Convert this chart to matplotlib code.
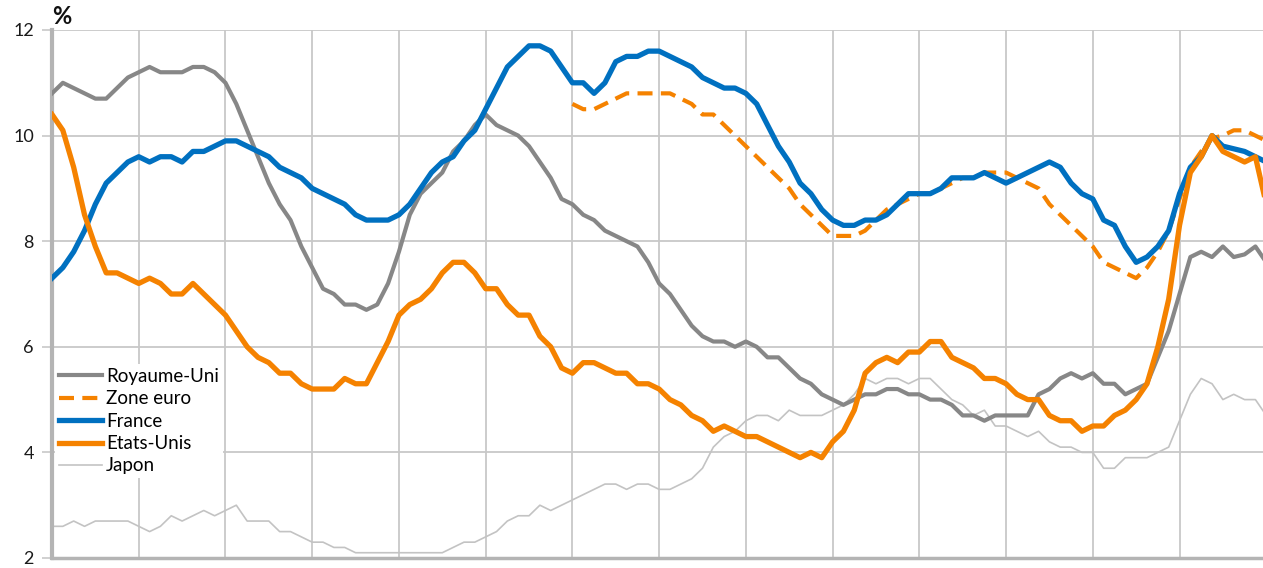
import matplotlib
matplotlib.use("Agg")
import matplotlib.pyplot as plt
import numpy as np

# Taux de chomage trimestriels, 1983T1 -> 2011T1 (indice 0 = 1983T1)
royaume_uni = [10.8, 11.0, 10.9, 10.8, 10.7, 10.7, 10.9, 11.1, 11.2, 11.3,
               11.2, 11.2, 11.2, 11.3, 11.3, 11.2, 11.0, 10.6, 10.1, 9.6,
               9.1, 8.7, 8.4, 7.9, 7.5, 7.1, 7.0, 6.8, 6.8, 6.7,
               6.8, 7.2, 7.8, 8.5, 8.9, 9.1, 9.3, 9.7, 9.9, 10.2,
               10.4, 10.2, 10.1, 10.0, 9.8, 9.5, 9.2, 8.8, 8.7, 8.5,
               8.4, 8.2, 8.1, 8.0, 7.9, 7.6, 7.2, 7.0, 6.7, 6.4,
               6.2, 6.1, 6.1, 6.0, 6.1, 6.0, 5.8, 5.8, 5.6, 5.4,
               5.3, 5.1, 5.0, 4.9, 5.0, 5.1, 5.1, 5.2, 5.2, 5.1,
               5.1, 5.0, 5.0, 4.9, 4.7, 4.7, 4.6, 4.7, 4.7, 4.7,
               4.7, 5.1, 5.2, 5.4, 5.5, 5.4, 5.5, 5.3, 5.3, 5.1,
               5.2, 5.3, 5.8, 6.3, 7.0, 7.7, 7.8, 7.7, 7.9, 7.7,
               7.75, 7.9, 7.6]

# Zone euro : debut de serie en 1995T1 (indice 48)
zone_euro_debut = 48
zone_euro = [10.6, 10.5, 10.5, 10.6, 10.7, 10.8, 10.8, 10.8, 10.8, 10.8,
             10.7, 10.6, 10.4, 10.4, 10.2, 10.0, 9.8, 9.6, 9.4, 9.2,
             9.0, 8.7, 8.5, 8.3, 8.1, 8.1, 8.1, 8.2, 8.4, 8.6,
             8.7, 8.8, 8.9, 8.9, 9.0, 9.1, 9.2, 9.2, 9.3, 9.3,
             9.3, 9.2, 9.1, 9.0, 8.7, 8.5, 8.3, 8.1, 7.9, 7.6,
             7.5, 7.4, 7.3, 7.5, 7.8, 8.2, 8.8, 9.4, 9.7, 9.95,
             10.0, 10.1, 10.1, 10.0, 9.9]

france = [7.3, 7.5, 7.8, 8.2, 8.7, 9.1, 9.3, 9.5, 9.6, 9.5,
          9.6, 9.6, 9.5, 9.7, 9.7, 9.8, 9.9, 9.9, 9.8, 9.7,
          9.6, 9.4, 9.3, 9.2, 9.0, 8.9, 8.8, 8.7, 8.5, 8.4,
          8.4, 8.4, 8.5, 8.7, 9.0, 9.3, 9.5, 9.6, 9.9, 10.1,
          10.5, 10.9, 11.3, 11.5, 11.7, 11.7, 11.6, 11.3, 11.0, 11.0,
          10.8, 11.0, 11.4, 11.5, 11.5, 11.6, 11.6, 11.5, 11.4, 11.3,
          11.1, 11.0, 10.9, 10.9, 10.8, 10.6, 10.2, 9.8, 9.5, 9.1,
          8.9, 8.6, 8.4, 8.3, 8.3, 8.4, 8.4, 8.5, 8.7, 8.9,
          8.9, 8.9, 9.0, 9.2, 9.2, 9.2, 9.3, 9.2, 9.1, 9.2,
          9.3, 9.4, 9.5, 9.4, 9.1, 8.9, 8.8, 8.4, 8.3, 7.9,
          7.6, 7.7, 7.9, 8.2, 8.9, 9.4, 9.6, 10.0, 9.8, 9.75,
          9.7, 9.6, 9.5]

etats_unis = [10.4, 10.1, 9.4, 8.5, 7.9, 7.4, 7.4, 7.3, 7.2, 7.3,
              7.2, 7.0, 7.0, 7.2, 7.0, 6.8, 6.6, 6.3, 6.0, 5.8,
              5.7, 5.5, 5.5, 5.3, 5.2, 5.2, 5.2, 5.4, 5.3, 5.3,
              5.7, 6.1, 6.6, 6.8, 6.9, 7.1, 7.4, 7.6, 7.6, 7.4,
              7.1, 7.1, 6.8, 6.6, 6.6, 6.2, 6.0, 5.6, 5.5, 5.7,
              5.7, 5.6, 5.5, 5.5, 5.3, 5.3, 5.2, 5.0, 4.9, 4.7,
              4.6, 4.4, 4.5, 4.4, 4.3, 4.3, 4.2, 4.1, 4.0, 3.9,
              4.0, 3.9, 4.2, 4.4, 4.8, 5.5, 5.7, 5.8, 5.7, 5.9,
              5.9, 6.1, 6.1, 5.8, 5.7, 5.6, 5.4, 5.4, 5.3, 5.1,
              5.0, 5.0, 4.7, 4.6, 4.6, 4.4, 4.5, 4.5, 4.7, 4.8,
              5.0, 5.3, 6.0, 6.9, 8.3, 9.3, 9.6, 10.0, 9.7, 9.6,
              9.5, 9.6, 8.7]

japon = [2.6, 2.6, 2.7, 2.6, 2.7, 2.7, 2.7, 2.7, 2.6, 2.5,
         2.6, 2.8, 2.7, 2.8, 2.9, 2.8, 2.9, 3.0, 2.7, 2.7,
         2.7, 2.5, 2.5, 2.4, 2.3, 2.3, 2.2, 2.2, 2.1, 2.1,
         2.1, 2.1, 2.1, 2.1, 2.1, 2.1, 2.1, 2.2, 2.3, 2.3,
         2.4, 2.5, 2.7, 2.8, 2.8, 3.0, 2.9, 3.0, 3.1, 3.2,
         3.3, 3.4, 3.4, 3.3, 3.4, 3.4, 3.3, 3.3, 3.4, 3.5,
         3.7, 4.1, 4.3, 4.4, 4.6, 4.7, 4.7, 4.6, 4.8, 4.7,
         4.7, 4.7, 4.8, 4.9, 5.1, 5.4, 5.3, 5.4, 5.4, 5.3,
         5.4, 5.4, 5.2, 5.0, 4.9, 4.7, 4.8, 4.5, 4.5, 4.4,
         4.3, 4.4, 4.2, 4.1, 4.1, 4.0, 4.0, 3.7, 3.7, 3.9,
         3.9, 3.9, 4.0, 4.1, 4.6, 5.1, 5.4, 5.3, 5.0, 5.1,
         5.0, 5.0, 4.7]

y_ticks = [2, 4, 6, 8, 10, 12]

GRIS = "#878787"
ORANGE = "#f58200"
BLEU = "#0070c0"
GRIS_CLAIR = "#c3c3c3"
GRILLE = "#c8c8c8"


def generate_chart():
    plt.rcParams['font.family'] = ['Lato', 'DejaVu Sans']

    fig = plt.figure(figsize=(12.63, 5.68), dpi=100)
    ax = fig.add_axes([52 / 1263, 10 / 568, 1 - 52 / 1263, 528 / 568])

    q = np.arange(len(france))
    q_euro = np.arange(zone_euro_debut, zone_euro_debut + len(zone_euro))

    ax.plot(q, japon, color=GRIS_CLAIR, linewidth=1.2, label='Japon', zorder=2)
    ax.plot(q, royaume_uni, color=GRIS, linewidth=3.0, label='Royaume-Uni',
            solid_joinstyle='round', zorder=3)
    ax.plot(q_euro, zone_euro, color=ORANGE, linewidth=3.0, linestyle=(0, (3.6, 2.0)),
            label='Zone euro', zorder=4)
    ax.plot(q, france, color=BLEU, linewidth=3.8, label='France',
            solid_joinstyle='round', zorder=5)
    ax.plot(q, etats_unis, color=ORANGE, linewidth=3.8, label='Etats-Unis',
            solid_joinstyle='round', zorder=6)

    # Axes et grille
    ax.set_xlim(0, 111.7)
    ax.set_ylim(2, 12)
    ax.set_yticks(y_ticks)
    ax.set_yticklabels([str(v) for v in y_ticks], fontsize=13, color='#1a1a1a')
    ax.set_xticks(np.arange(0, 112, 8))
    ax.tick_params(axis='x', length=0, labelbottom=False)
    ax.tick_params(axis='y', length=7, width=1.2, color=GRILLE, pad=6)
    ax.grid(True, color=GRILLE, linewidth=1.3, zorder=0)
    ax.set_axisbelow(True)
    for side in ['top', 'right']:
        ax.spines[side].set_visible(False)
    ax.spines['left'].set_color('#b4b4b4')
    ax.spines['left'].set_linewidth(3)
    ax.spines['bottom'].set_color('#b4b4b4')
    ax.spines['bottom'].set_linewidth(2.5)

    fig.text(52 / 1263, 1 - 17 / 568, '%', fontsize=17, fontweight='bold',
             va='center', ha='left', color='#111111')

    # Legende
    handles, labels = ax.get_legend_handles_labels()
    ordre = ['Royaume-Uni', 'Zone euro', 'France', 'Etats-Unis', 'Japon']
    h = [handles[labels.index(n)] for n in ordre]
    leg = fig.legend(h, ordre, loc='upper left', bbox_to_anchor=(55 / 1263, 1 - 364 / 568),
                     fontsize=13.5, frameon=True, facecolor='white', edgecolor='none',
                     framealpha=1, handlelength=2.3, handletextpad=0.22,
                     labelspacing=0.29, borderpad=0.2, borderaxespad=0)
    leg.set_zorder(10)

    fig.savefig('out.png', dpi=100)
    plt.close('all')


if __name__ == "__main__":
    generate_chart()
